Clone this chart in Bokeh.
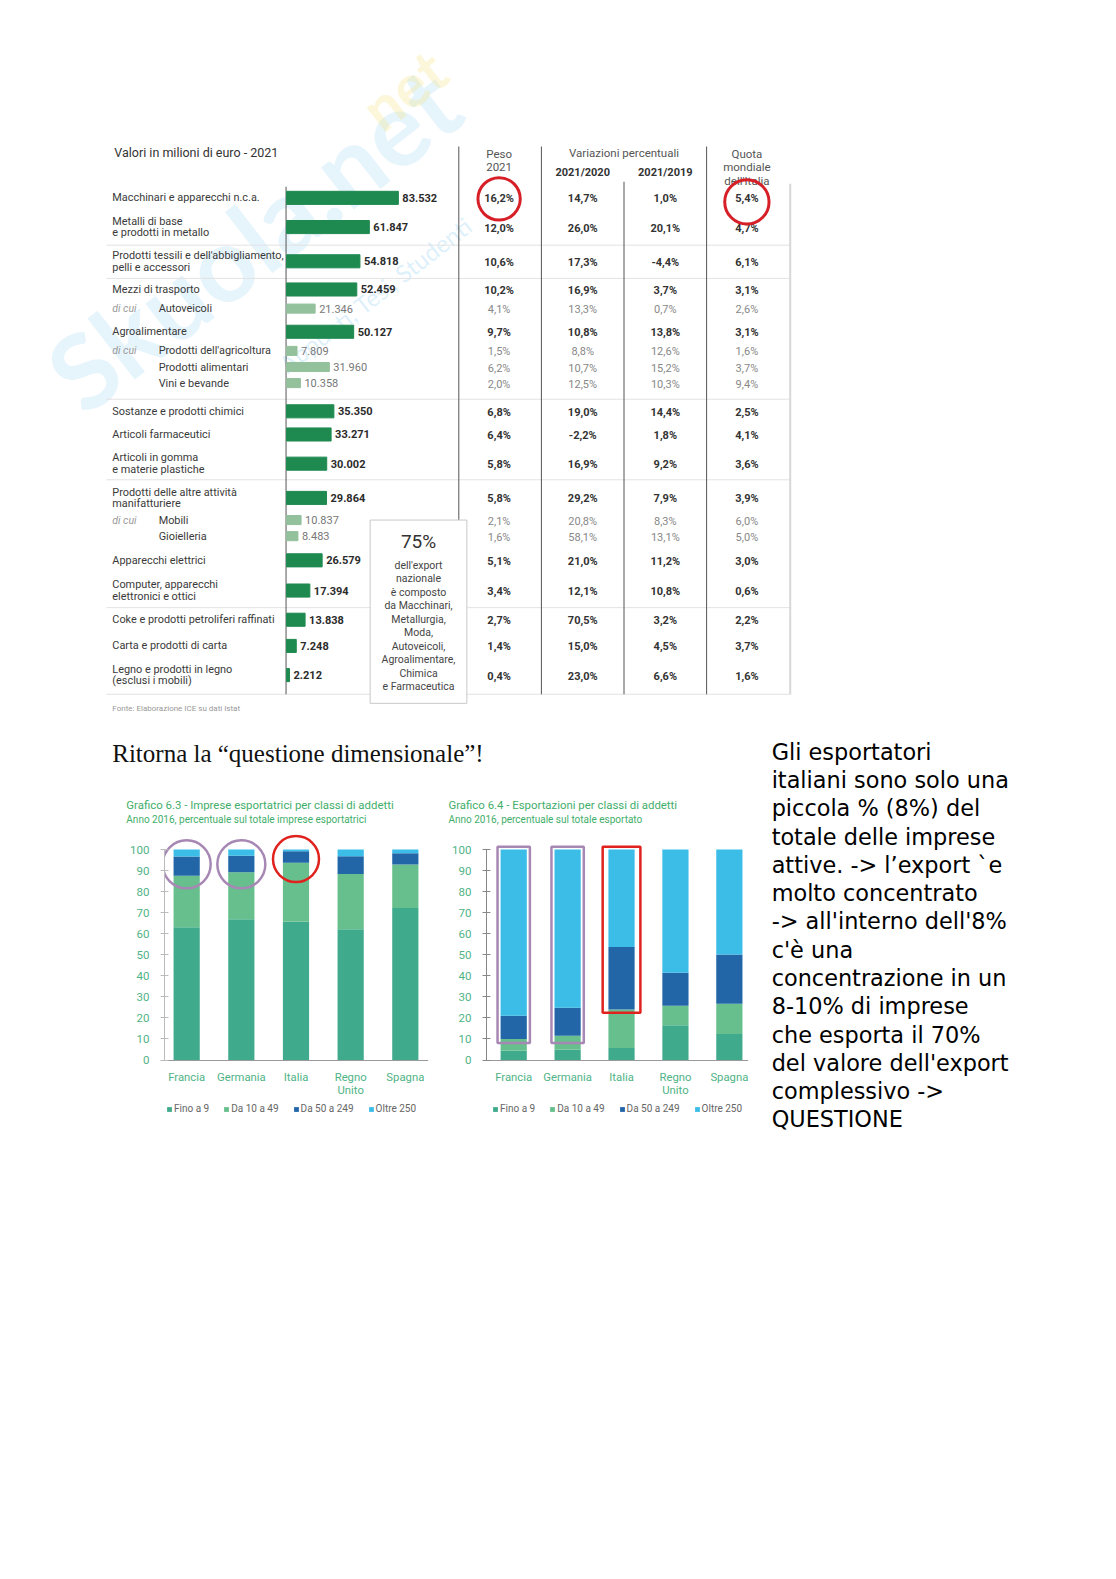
from bokeh.plotting import figure
from bokeh.models import Range1d, FixedTicker, Legend, LegendItem, ColumnDataSource
from bokeh.layouts import column, row
from bokeh.core.properties import value
from bokeh.embed import file_html
from bokeh.resources import INLINE

# ---------------- DATA ----------------
SECTORS = [
    "Macchinari e apparecchi n.c.a.",
    "Metalli di base\ne prodotti in metallo",
    "Prodotti tessili e dell'abbigliamento,\npelli e accessori",
    "Mezzi di trasporto",
    "Autoveicoli",
    "Agroalimentare",
    "Prodotti dell'agricoltura",
    "Prodotti alimentari",
    "Vini e bevande",
    "Sostanze e prodotti chimici",
    "Articoli farmaceutici",
    "Articoli in gomma\ne materie plastiche",
    "Prodotti delle altre attività\nmanifatturiere",
    "Mobili",
    "Gioielleria",
    "Apparecchi elettrici",
    "Computer, apparecchi\nelettronici e ottici",
    "Coke e prodotti petroliferi raffinati",
    "Carta e prodotti di carta",
    "Legno e prodotti in legno\n(esclusi i mobili)",
]
IS_SUB = [False, False, False, False, True, False, True, True, True, False,
          False, False, False, True, True, False, False, False, False, False]
DI_CUI = [False, False, False, False, True, False, True, False, False, False,
          False, False, False, True, False, False, False, False, False, False]
EXPORT_MLN = [83532, 61847, 54818, 52459, 21346, 50127, 7809, 31960, 10358, 35350,
              33271, 30002, 29864, 10837, 8483, 26579, 17394, 13838, 7248, 2212]
PESO_2021 = ["16,2%", "12,0%", "10,6%", "10,2%", "4,1%", "9,7%", "1,5%", "6,2%", "2,0%", "6,8%",
             "6,4%", "5,8%", "5,8%", "2,1%", "1,6%", "5,1%", "3,4%", "2,7%", "1,4%", "0,4%"]
VAR_2021_2020 = ["14,7%", "26,0%", "17,3%", "16,9%", "13,3%", "10,8%", "8,8%", "10,7%", "12,5%", "19,0%",
                 "-2,2%", "16,9%", "29,2%", "20,8%", "58,1%", "21,0%", "12,1%", "70,5%", "15,0%", "23,0%"]
VAR_2021_2019 = ["1,0%", "20,1%", "-4,4%", "3,7%", "0,7%", "13,8%", "12,6%", "15,2%", "10,3%", "14,4%",
                 "1,8%", "9,2%", "7,9%", "8,3%", "13,1%", "11,2%", "10,8%", "3,2%", "4,5%", "6,6%"]
QUOTA_MONDIALE = ["5,4%", "4,7%", "6,1%", "3,1%", "2,6%", "3,1%", "1,6%", "3,7%", "9,4%", "2,5%",
                  "4,1%", "3,6%", "3,9%", "6,0%", "5,0%", "3,0%", "0,6%", "2,2%", "3,7%", "1,6%"]
BOX_LINES = ["dell'export", "nazionale", "è composto", "da Macchinari,", "Metallurgia,", "Moda,",
             "Autoveicoli,", "Agroalimentare,", "Chimica", "e Farmaceutica"]

COUNTRIES = ["Francia", "Germania", "Italia", "Regno\nUnito", "Spagna"]
CLASSES = ["Fino a 9", "Da 10 a 49", "Da 50 a 249", "Oltre 250"]
IMPRESE_FINO9 = [63.1, 66.9, 65.8, 62.1, 72.3]
IMPRESE_10_49 = [24.5, 22.3, 28.0, 26.3, 20.6]
IMPRESE_50_249 = [9.1, 7.9, 5.4, 8.4, 5.4]
IMPRESE_OLTRE250 = [3.3, 2.9, 0.8, 3.2, 1.7]
EXPORT_FINO9 = [4.5, 5.0, 5.7, 16.5, 12.4]
EXPORT_10_49 = [5.5, 6.5, 18.3, 9.3, 14.3]
EXPORT_50_249 = [11.0, 13.3, 29.7, 15.7, 23.5]
EXPORT_OLTRE250 = [79.0, 75.2, 46.3, 58.5, 49.8]

CHART_TITLES = ["Grafico 6.3 - Imprese esportatrici per classi di addetti",
                "Grafico 6.4 - Esportazioni per classi di addetti"]
CHART_SUBTITLES = ["Anno 2016, percentuale sul totale imprese esportatrici",
                   "Anno 2016, percentuale sul totale esportato"]

NOTE_LINES = ["Gli esportatori", "italiani sono solo una", "piccola % (8%) del",
              "totale delle imprese", "attive. -> l\u2019export `e", "molto concentrato",
              "-> all'interno dell'8%", "c'è una", "concentrazione in un",
              "8-10% di imprese", "che esporta il 70%", "del valore dell'export",
              "complessivo ->", "QUESTIONE"]

# ---------------- LAYOUT / STYLE ----------------
S = 1.0073  # page-unit -> screen pixel factor
ROW_Y = [196, 225, 259, 287, 306, 329, 348, 364, 380, 408, 431, 460, 494, 516, 532, 556, 586, 615, 641, 670]
FONT = value("Roboto")
DARK_GREEN = "#1f8a50"
LIGHT_GREEN = "#93c19c"
CLASS_COLORS = ["#40ab8c", "#66bf8c", "#2266a8", "#3bbde8"]
CHART_GREEN = "#4fb386"
TITLE_GREEN = "#3fae6a"
BAR_ZERO_PX = 284
BAR_PX_PER_UNIT = 111 / 83532


def blank(x0, x1, y0, y1):
    p = figure(width=round((x1 - x0) * S), height=round((y1 - y0) * S),
               x_range=Range1d(x0, x1), y_range=Range1d(y1, y0),
               output_backend="svg", toolbar_location=None, x_axis_type=None, y_axis_type=None,
               min_border=0, outline_line_color=None)
    p.grid.visible = False
    return p


# ---------------- TOP TABLE ----------------
top = blank(0, 1100, 0, 725)
k = BAR_PX_PER_UNIT
top.extra_x_ranges = {"val": Range1d((0 - BAR_ZERO_PX) / k, (1100 - BAR_ZERO_PX) / k)}

# watermark
top.text(x=[250], y=[235], text=["Skuola.net"], angle=0.66, text_font=value("Lato"),
         text_font_size="104px", text_font_style="bold", text_color="#8ccdf0", text_alpha=0.22,
         text_align="center", text_baseline="middle")
top.text(x=[372], y=[292], text=["Appunti, Tesi, Studenti"], angle=0.66, text_font=value("Lato"),
         text_font_size="24px", text_color="#8ccdf0", text_alpha=0.3,
         text_align="center", text_baseline="middle")
top.text(x=[400], y=[88], text=["net"], angle=0.66, text_font=value("Lato"),
         text_font_size="60px", text_font_style="bold", text_color="#f3e27a", text_alpha=0.28,
         text_align="center", text_baseline="middle")

# separators
sep_y = [243, 276, 396, 476, 603, 689]
top.segment(x0=[105] * len(sep_y), x1=[785] * len(sep_y), y0=sep_y, y1=sep_y,
            line_color="#e2e2e2", line_width=1)
# vertical lines
vx = [283.5, 455, 537, 619, 701]
vtop = [185, 145, 145, 180, 145]
top.segment(x0=vx, x1=vx, y0=vtop, y1=[689] * 5, line_color="#555555", line_width=1)
top.segment(x0=[784], x1=[784], y0=[182], y1=[689], line_color="#d8d8d8", line_width=2)

# bars
heights = [9 if s else 13 for s in IS_SUB]
colors = [LIGHT_GREEN if s else DARK_GREEN for s in IS_SUB]
top.hbar(y=ROW_Y, left=0, right=EXPORT_MLN, height=heights, color=colors, x_range_name="val")
val_txt = [f"{v:,}".replace(",", ".") for v in EXPORT_MLN]
for sub in (False, True):
    idx = [i for i in range(len(ROW_Y)) if IS_SUB[i] == sub]
    top.text(x=[EXPORT_MLN[i] for i in idx], y=[ROW_Y[i] for i in idx], text=[val_txt[i] for i in idx],
             x_range_name="val", x_offset=4, text_baseline="middle", text_font=FONT,
             text_font_size="11px", text_font_style="normal" if sub else "bold",
             text_color="#777777" if sub else "#2b2b2b")

# sector labels
lx, ly, lt = [], [], []
for i, lab in enumerate(SECTORS):
    lines = lab.split("\n")
    n = len(lines)
    for j, ln in enumerate(lines):
        lx.append(157 if IS_SUB[i] else 111)
        ly.append(ROW_Y[i] + (j - (n - 1) / 2) * 11.5)
        lt.append(ln)
top.text(x=lx, y=ly, text=lt, text_baseline="middle", text_font=FONT, text_font_size="10.9px",
         text_color="#3a3a3a")
dc = [ROW_Y[i] for i in range(len(ROW_Y)) if DI_CUI[i]]
top.text(x=[111] * len(dc), y=dc, text=["di cui"] * len(dc), text_baseline="middle", text_font=FONT,
         text_font_size="10.5px", text_font_style="italic", text_color="#9a9a9a")

# columns
for cx, col in zip([495, 578, 660, 741], [PESO_2021, VAR_2021_2020, VAR_2021_2019, QUOTA_MONDIALE]):
    for sub in (False, True):
        idx = [i for i in range(len(ROW_Y)) if IS_SUB[i] == sub]
        top.text(x=[cx] * len(idx), y=[ROW_Y[i] + 1 for i in idx], text=[col[i] for i in idx],
                 text_align="center", text_baseline="middle", text_font=FONT, text_font_size="11px",
                 text_font_style="normal" if sub else "bold",
                 text_color="#888888" if sub else "#333333")

# headers
top.text(x=[113], y=[151], text=["Valori in milioni di euro - 2021"], text_baseline="middle",
         text_font=FONT, text_font_size="12.5px", text_color="#333333")
top.text(x=[495, 495, 619, 741, 741, 741], y=[152, 165, 151, 152, 165, 179],
         text=["Peso", "2021", "Variazioni percentuali", "Quota", "mondiale", "dell'Italia"],
         text_align="center", text_baseline="middle", text_font=FONT, text_font_size="11.5px",
         text_color="#555555")
top.text(x=[578, 660], y=[171, 171], text=["2021/2020", "2021/2019"], text_align="center",
         text_baseline="middle", text_font=FONT, text_font_size="11px", text_font_style="bold",
         text_color="#333333")

# 75% box
top.quad(left=[367], right=[463], top=[516], bottom=[698], fill_color="white",
         line_color="#c8c8c8", line_width=1)
top.text(x=[415], y=[537], text=["75%"], text_align="center", text_baseline="middle",
         text_font=FONT, text_font_size="19px", text_color="#333333")
top.text(x=[415] * len(BOX_LINES), y=[561 + 13.4 * i for i in range(len(BOX_LINES))], text=BOX_LINES,
         text_align="center", text_baseline="middle", text_font=FONT, text_font_size="10.5px",
         text_color="#444444")

# red circles
top.circle(x=[495, 741], y=[197, 200], radius=[21, 22], fill_color=None, line_color="#d61f26",
           line_width=3)

top.text(x=[111], y=[703], text=["Fonte: Elaborazione ICE su dati Istat"], text_baseline="middle",
         text_font=FONT, text_font_size="8px", text_color="#999999")

# ---------------- HEADINGS ABOVE THE CHARTS ----------------
head = blank(0, 750, 725, 828)
head.text(x=[111], y=[748], text=["Ritorna la \u201cquestione dimensionale\u201d!"], text_baseline="middle",
          text_font=value("Liberation Serif"), text_font_size="25px", text_color="#111111")
head.text(x=[125, 445], y=[799, 799], text=CHART_TITLES, text_baseline="middle", text_font=FONT,
          text_font_size="11.4px", text_color=TITLE_GREEN)
head.text(x=[125, 445], y=[813, 813], text=CHART_SUBTITLES, text_baseline="middle", text_font=FONT,
          text_font_size="10px", text_color=TITLE_GREEN)


# ---------------- STACKED CHARTS ----------------
def stacked(left_px, right_px, frame_l, frame_r, cat0, step, stacks, axis_col, leg_dx):
    ppy = 2.09  # page px per percentage point
    y_top = (1052 - 828) / ppy
    y_bot = (1052 - 1125) / ppy
    x0 = (frame_l - cat0) / step
    x1 = (frame_r - cat0) / step
    p = figure(width=round((right_px - left_px) * S), height=round((1125 - 828) * S),
               x_range=Range1d(x0, x1), y_range=Range1d(y_bot, y_top),
               output_backend="svg", toolbar_location=None,
               min_border_left=round((frame_l - left_px) * S),
               min_border_right=round((right_px - frame_r) * S),
               min_border_top=0, min_border_bottom=0, outline_line_color=None)
    p.grid.visible = False
    src = ColumnDataSource(dict(x=list(range(len(COUNTRIES))),
                                **{c: s for c, s in zip(CLASSES, stacks)}))
    rs = p.vbar_stack(CLASSES, x="x", width=26 / step, color=CLASS_COLORS, source=src, line_width=0)
    p.yaxis.ticker = FixedTicker(ticks=list(range(0, 101, 10)))
    p.yaxis.bounds = (0, 100)
    p.yaxis.axis_line_color = axis_col
    p.yaxis.major_tick_line_color = axis_col
    p.yaxis.major_tick_in = 4
    p.yaxis.major_tick_out = 4
    p.yaxis.minor_tick_line_color = None
    p.yaxis.major_label_standoff = 11
    p.yaxis.major_label_text_color = CHART_GREEN
    p.yaxis.major_label_text_font = "Roboto"
    p.yaxis.major_label_text_font_size = "11.5px"
    p.xaxis.fixed_location = 0
    p.xaxis.ticker = FixedTicker(ticks=list(range(len(COUNTRIES))))
    p.xaxis.major_label_overrides = {i: c for i, c in enumerate(COUNTRIES)}
    p.xaxis.major_tick_line_color = None
    p.xaxis.minor_tick_line_color = None
    p.xaxis.axis_line_color = "#999999"
    p.xaxis.major_label_standoff = 5
    p.xaxis.major_label_text_line_height = 1.0
    p.xaxis.major_label_text_color = CHART_GREEN
    p.xaxis.major_label_text_font = "Roboto"
    p.xaxis.major_label_text_font_size = "11.3px"
    leg = Legend(items=[LegendItem(label=c, renderers=[r]) for c, r in zip(CLASSES, rs)],
                 location=(leg_dx, 19), orientation="horizontal", glyph_width=6, glyph_height=6,
                 label_text_font_size="10px", label_text_color="#666666", label_text_font="Roboto",
                 label_height=10, label_standoff=2, spacing=14, padding=0, margin=0,
                 border_line_color=None, background_fill_alpha=0)
    p.add_layout(leg)
    return p


c1 = stacked(0, 435, 163, 425, 185, 54.25,
             [IMPRESE_FINO9, IMPRESE_10_49, IMPRESE_50_249, IMPRESE_OLTRE250], "#bbbbbb", 2)
c1.scatter(x=[0, 1], y=[93, 93], size=48, marker="circle", fill_color=None, line_color="#a787b3",
           line_width=2.5)
c1.scatter(x=[2], y=[95.5], size=46, marker="circle", fill_color=None, line_color="#e0221e",
           line_width=2.5)

c2 = stacked(435, 750, 483, 743, 510, 53.5,
             [EXPORT_FINO9, EXPORT_10_49, EXPORT_50_249, EXPORT_OLTRE250], "#888888", 6)
c2.quad(left=[-0.3, 0.7], right=[0.3, 1.3], top=[101.3, 101.3], bottom=[8.1, 8.1],
        fill_color=None, line_color="#a787b3", line_width=2.5)
c2.quad(left=[1.65], right=[2.35], top=[101.3], bottom=[22.5], fill_color=None,
        line_color="#e0221e", line_width=2.5)

# ---------------- NOTE ----------------
note = blank(750, 1100, 725, 1125)
note.text(x=[766] * len(NOTE_LINES), y=[746 + 28.08 * i for i in range(len(NOTE_LINES))],
          text=NOTE_LINES, text_baseline="middle", text_font=value("DejaVu Sans"),
          text_font_size="22.4px", text_color="#000000")

layout = column(top, row(column(head, row(c1, c2)), note))
open("out.html", "w").write(file_html(layout, INLINE))
